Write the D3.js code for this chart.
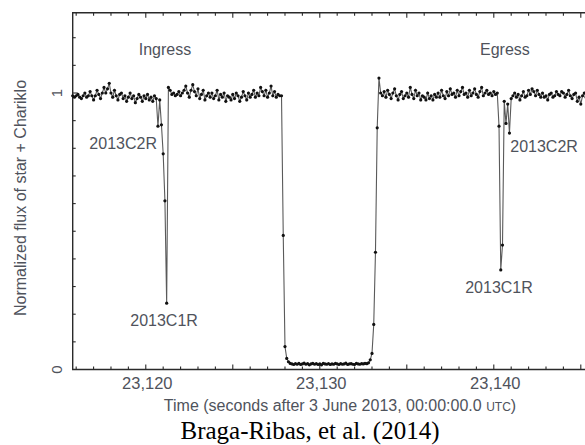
<!DOCTYPE html>
<html>
<head>
<meta charset="utf-8">
<script src="https://cdn.jsdelivr.net/npm/d3@7/dist/d3.min.js"></script>
<style>
  body { margin: 0; background: #fff; }
  svg { display: block; background: #fff; }
  text { font-family: "Liberation Sans", Arial, sans-serif; }
  text.caption { font-family: "Liberation Serif", "Times New Roman", serif; }
</style>
</head>
<body>
<svg id="chart" width="585" height="445"></svg>
<script>
// light curve, one sample every 0.1 s starting at t0 (seconds after 3 June 2013 00:00 UTC)
const t0 = 23115.8
const dt = 0.1
const flux = [
  0.99, 0.985, 0.99, 0.995, 0.985, 0.98, 0.99, 1.0, 0.985, 0.99,
  1.005, 0.99, 0.975, 0.99, 1.01, 0.995, 0.98, 1.0, 1.02, 1.0,
  1.015, 1.035, 1.0, 0.985, 1.01, 0.99, 0.975, 0.995, 1.0, 0.98,
  0.99, 0.97, 0.985, 1.0, 0.98, 0.99, 0.965, 0.98, 0.995, 0.985,
  0.97, 0.99, 0.98, 0.995, 0.975, 0.985, 0.97, 0.99, 0.98, 0.88,
  0.975, 0.885, 0.78, 0.61, 0.24, 1.02, 1.01, 0.995, 1.0, 0.99,
  0.995, 1.005, 0.99, 1.0, 1.01, 1.025, 1.0, 0.985, 1.01, 1.03,
  1.005, 0.99, 1.015, 0.98, 0.995, 1.01, 0.975, 0.99, 1.0, 0.985,
  1.0, 0.98, 0.99, 1.01, 0.975, 0.995, 0.985, 1.0, 0.97, 0.99,
  0.985, 0.975, 0.995, 0.98, 1.0, 0.99, 0.97, 0.985, 1.005, 0.99,
  0.975, 1.0, 0.985, 0.995, 1.01, 0.985, 1.0, 0.99, 1.02, 1.005,
  0.99, 1.01, 0.985, 1.0, 1.025, 0.99, 1.005, 0.985, 0.995, 0.99,
  0.99, 0.485, 0.083, 0.04, 0.028, 0.022, 0.02, 0.018, 0.021, 0.019,
  0.022, 0.018, 0.02, 0.023, 0.019, 0.021, 0.017, 0.02, 0.022, 0.019,
  0.021, 0.018, 0.02, 0.017, 0.022, 0.02, 0.019, 0.021, 0.018, 0.02,
  0.019, 0.022, 0.02, 0.018, 0.021, 0.019, 0.02, 0.023, 0.018, 0.02,
  0.021, 0.019, 0.018, 0.022, 0.02, 0.019, 0.021, 0.02, 0.022, 0.021,
  0.024, 0.035, 0.058, 0.163, 0.424, 0.874, 1.054, 1.0, 0.99, 1.005,
  0.985, 1.01, 0.995, 0.98, 1.0, 1.015, 0.99, 0.975, 0.995, 1.005,
  0.98, 0.99, 1.0, 0.985, 1.02, 0.995, 0.98, 1.01, 0.99, 1.0,
  0.975, 0.99, 0.985, 0.975, 1.0, 0.98, 0.99, 0.975, 0.995, 0.985,
  1.0, 0.985, 1.01, 0.99, 0.98, 1.005, 0.99, 1.015, 0.995, 1.0,
  0.985, 1.01, 0.99, 1.005, 1.02, 0.995, 1.0, 0.985, 1.01, 0.99,
  1.0, 1.015, 0.995, 0.985, 1.005, 1.02, 0.99, 1.0, 1.01, 0.995,
  1.0, 0.99, 1.005, 0.995, 1.0, 0.88, 0.36, 0.45, 0.97, 0.89,
  0.96, 0.855, 0.98, 0.99, 1.0, 0.985, 0.995, 0.975, 0.99, 1.005,
  0.985, 0.99, 1.01, 0.995, 1.015, 1.005, 0.99, 1.01, 0.995, 0.985,
  1.0, 0.985, 0.99, 0.975, 0.995, 1.0, 0.985, 0.99, 1.005, 0.995,
  0.99, 1.005, 1.0, 0.985, 0.995, 1.01, 0.99, 0.98, 0.995, 1.0,
  0.97, 0.985, 0.96, 0.99, 1.0, 0.985, 0.995, 0.98, 1.0, 0.99,
  0.985, 0.995, 0.99
]
const xTickLabels = [23120, 23130, 23140]
const yTickLabels = [0, 1]
const notes = [
  { text: "Ingress", t: 23121.1, f: 1.159 },
  { text: "Egress", t: 23140.64, f: 1.159 },
  { text: "2013C2R", t: 23118.7, f: 0.819 },
  { text: "2013C1R", t: 23121.05, f: 0.179 },
  { text: "2013C2R", t: 23142.89, f: 0.808 },
  { text: "2013C1R", t: 23140.3, f: 0.298 }
]
const xTitle = "Time (seconds after 3 June 2013, 00:00:00.0 "
const yTitle = "Normalized flux of star + Chariklo"
const caption = "Braga-Ribas, et al. (2014)"

;(function () {
  "use strict";

  let svg = d3.select("#chart")
  const W = +svg.attr("width")

  const x = d3.scaleLinear().domain([t0, 23146]).range([72.7, 598.2])
  const y = d3.scaleLinear().domain([0, 1]).range([369.5, 93])
  const yTop = y(1.29)
  const txtCol = "#4f535c"

  let pts = flux.map((f, i) => [t0 + i * dt, f])

  // frame (right side is cropped away in the original)
  svg.append("path")
    .attr("d", `M${W + 2},${yTop}H${x(t0)}V${y(0)}H${W + 2}`)
    .attr("fill", "none")
    .attr("stroke", "#2a2a2a")
    .attr("stroke-width", 1.4)

  // inward ticks: x every 1 s (longer every 5 s), top and bottom
  let xt = d3.range(23116, 23147, 1)
  let tg = svg.append("g").attr("stroke", "#2a2a2a").attr("stroke-width", 1.1)
  for (let t of xt) {
    let len = t % 5 === 0 ? 5 : 3
    tg.append("line").attr("x1", x(t)).attr("x2", x(t))
      .attr("y1", y(0)).attr("y2", y(0) - len)
    tg.append("line").attr("x1", x(t)).attr("x2", x(t))
      .attr("y1", yTop).attr("y2", yTop + len)
  }
  for (let v of d3.range(0.1, 1.25, 0.1)) {
    let len = Math.abs(v - 1) < 1e-6 ? 5 : 3
    tg.append("line").attr("x1", x(t0)).attr("x2", x(t0) + len)
      .attr("y1", y(v)).attr("y2", y(v))
  }

  // tick labels
  svg.append("g").selectAll("text").data(xTickLabels).join("text")
    .attr("x", d => x(d) + 1.5)
    .attr("y", 383)
    .attr("dominant-baseline", "central")
    .attr("text-anchor", "middle")
    .attr("font-size", 16.5)
    .attr("fill", txtCol)
    .text(d => d3.format(",")(d))

  svg.append("g").selectAll("text").data(yTickLabels).join("text")
    .attr("transform", d => `translate(56,${y(d)}) rotate(-90)`)
    .attr("dominant-baseline", "central")
    .attr("text-anchor", "middle")
    .attr("font-size", 15)
    .attr("fill", txtCol)
    .text(d => d)

  // light curve
  let line = d3.line().x(d => x(d[0])).y(d => y(d[1]))
  svg.append("path")
    .attr("d", line(pts))
    .attr("fill", "none")
    .attr("stroke", "#5a5a5a")
    .attr("stroke-width", 1.1)

  svg.append("g").selectAll("circle").data(pts).join("circle")
    .attr("cx", d => x(d[0]))
    .attr("cy", d => y(d[1]))
    .attr("r", 1.6)
    .attr("fill", "#111")

  // annotations
  svg.append("g").selectAll("text").data(notes).join("text")
    .attr("x", d => x(d.t))
    .attr("y", d => y(d.f))
    .attr("dominant-baseline", "central")
    .attr("text-anchor", "middle")
    .attr("font-size", 16)
    .attr("fill", txtCol)
    .text(d => d.text)

  // axis titles
  let xt2 = svg.append("text")
    .attr("x", 340)
    .attr("y", 411)
    .attr("text-anchor", "middle")
    .attr("font-size", 16)
    .attr("fill", txtCol)
  xt2.append("tspan").text(xTitle)
  xt2.append("tspan").attr("font-size", 12).text("UTC")
  xt2.append("tspan").text(")")

  svg.append("text")
    .attr("transform", "translate(20,198) rotate(-90)")
    .attr("dominant-baseline", "central")
    .attr("text-anchor", "middle")
    .attr("font-size", 16)
    .attr("fill", txtCol)
    .text(yTitle)

  svg.append("text")
    .attr("class", "caption")
    .attr("x", 310)
    .attr("y", 439)
    .attr("text-anchor", "middle")
    .attr("font-size", 25)
    .attr("fill", "#000")
    .text(caption)
})();
</script>
</body>
</html>
